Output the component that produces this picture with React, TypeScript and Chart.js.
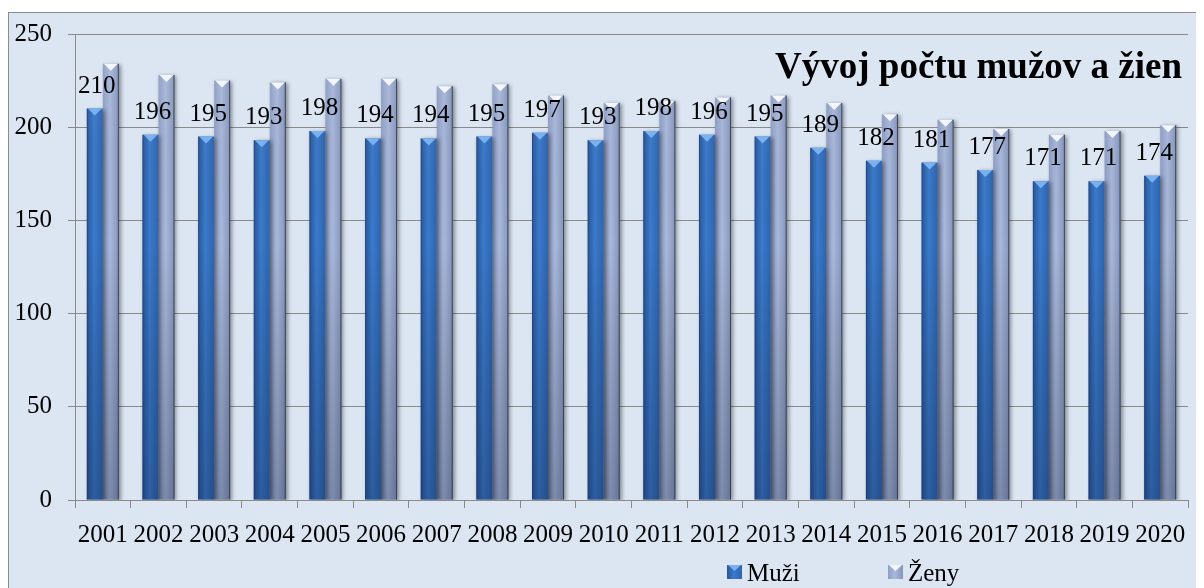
import React, { useEffect, useRef } from "react";
import { Chart, registerables } from "chart.js";

Chart.register(...registerables);

const years = ["2001", "2002", "2003", "2004", "2005", "2006", "2007", "2008", "2009", "2010",
  "2011", "2012", "2013", "2014", "2015", "2016", "2017", "2018", "2019", "2020"];
const muzi = [210, 196, 195, 193, 198, 194, 194, 195, 197, 193, 198, 196, 195, 189, 182, 181, 177, 171, 171, 174];
const zeny = [234, 228, 225, 224, 226, 226, 222, 223, 217, 213, 214, 216, 217, 213, 207, 204, 199, 196, 198, 201];
const seriesNames = ["Muži", "Ženy"];
const titleText = "Vývoj počtu mužov a žien";
const yMin = 0;
const yMax = 250;
const yStep = 50;

const FONT = '"Liberation Serif", "Times New Roman", Times, serif';
const CAT_PCT = 0.575;
const GRID = "#8a8a8a";

function barBounds(chart: any, dataIndex: number, datasetIndex: number) {
  const xs = chart.scales.x;
  const center = xs.getPixelForValue(dataIndex);
  const catW = xs.width / years.length;
  const w = (catW * CAT_PCT) / 2;
  const left = datasetIndex === 0 ? center - w : center;
  return [left, left + w];
}

function blueGradient(ctx: CanvasRenderingContext2D, l: number, r: number) {
  const g = ctx.createLinearGradient(l, 0, r, 0);
  g.addColorStop(0, "#2a5597");
  g.addColorStop(0.45, "#3a7bcd");
  g.addColorStop(1, "#2e64ae");
  return g;
}
function grayGradient(ctx: CanvasRenderingContext2D, l: number, r: number) {
  const g = ctx.createLinearGradient(l, 0, r, 0);
  g.addColorStop(0, "#8e9ec4");
  g.addColorStop(0.45, "#a9b9dc");
  g.addColorStop(1, "#8595bb");
  return g;
}

function makeFill(datasetIndex: number) {
  return (c: any) => {
    const chart = c.chart;
    if (!chart.chartArea || !chart.scales || !chart.scales.x || c.dataIndex === undefined) {
      return datasetIndex === 0 ? "#3a78c8" : "#a0b0d4";
    }
    const [l, r] = barBounds(chart, c.dataIndex, datasetIndex);
    return datasetIndex === 0 ? blueGradient(chart.ctx, l, r) : grayGradient(chart.ctx, l, r);
  };
}

const barDecor = {
  id: "barDecor",
  beforeDatasetDraw(chart: any) {
    const ctx = chart.ctx;
    ctx.save();
    ctx.shadowColor = "rgba(0,0,0,0.4)";
    ctx.shadowBlur = 4;
    ctx.shadowOffsetX = 2;
    ctx.shadowOffsetY = 1;
  },
  afterDatasetDraw(chart: any, args: any) {
    const ctx = chart.ctx;
    ctx.restore();
    const area = chart.chartArea;
    const idx = args.index;
    ctx.save();
    args.meta.data.forEach((el: any) => {
      const x = el.x, y = el.y, w = el.width, b = el.base;
      const l = x - w / 2, r = x + w / 2;
      const g = ctx.createLinearGradient(0, area.top, 0, area.bottom);
      g.addColorStop(0, "rgba(255,255,255,0.08)");
      g.addColorStop(0.45, "rgba(0,0,0,0)");
      g.addColorStop(1, "rgba(10,20,50,0.28)");
      ctx.fillStyle = g;
      ctx.fillRect(l, y, w, b - y);
      ctx.beginPath();
      ctx.moveTo(l + 1, y);
      ctx.lineTo(r - 1, y);
      ctx.lineTo(x, y + 7);
      ctx.closePath();
      ctx.fillStyle = idx === 0 ? "rgba(125,180,242,0.95)" : "rgba(248,250,255,0.95)";
      ctx.fill();
      if (idx === 1) {
        ctx.fillStyle = "rgba(45,55,75,0.85)";
        ctx.fillRect(r - 1, y, 1, b - y);
      } else {
        ctx.fillStyle = "rgba(30,60,110,0.5)";
        ctx.fillRect(l, y, 1, b - y);
      }
    });
    ctx.restore();
  },
};

const labelsAndTitle = {
  id: "labelsAndTitle",
  afterDatasetsDraw(chart: any) {
    const ctx = chart.ctx;
    const meta = chart.getDatasetMeta(0);
    ctx.save();
    ctx.fillStyle = "#000";
    ctx.font = `25px ${FONT}`;
    ctx.textAlign = "center";
    ctx.textBaseline = "alphabetic";
    meta.data.forEach((el: any, i: number) => {
      ctx.fillText(String(muzi[i]), el.x + 2, el.y - 16);
    });
    ctx.restore();
  },
  afterDraw(chart: any) {
    const ctx = chart.ctx;
    const area = chart.chartArea;
    ctx.save();
    ctx.fillStyle = "#000";
    ctx.font = `bold 37px ${FONT}`;
    ctx.textAlign = "right";
    ctx.textBaseline = "alphabetic";
    ctx.fillText(titleText, area.right - 6, 65);

    const items = [
      { x: 718, name: seriesNames[0], grad: blueGradient, cap: "rgba(125,180,242,0.95)" },
      { x: 879, name: seriesNames[1], grad: grayGradient, cap: "rgba(248,250,255,0.95)" },
    ];
    const by = 552, bs = 14;
    items.forEach((it) => {
      ctx.fillStyle = it.grad(ctx, it.x, it.x + 15);
      ctx.fillRect(it.x, by, 15, bs);
      ctx.beginPath();
      ctx.moveTo(it.x + 1, by);
      ctx.lineTo(it.x + 14, by);
      ctx.lineTo(it.x + 7.5, by + 6);
      ctx.closePath();
      ctx.fillStyle = it.cap;
      ctx.fill();
      ctx.fillStyle = "#000";
      ctx.font = `25px ${FONT}`;
      ctx.textAlign = "left";
      ctx.fillText(it.name, it.x + 20, 568);
    });
    ctx.restore();
  },
};

export default function App() {
  const ref = useRef<HTMLCanvasElement | null>(null);
  useEffect(() => {
    if (!ref.current) return;
    const chart = new Chart(ref.current, {
      type: "bar",
      data: {
        labels: years,
        datasets: [
          {
            label: seriesNames[0],
            data: muzi,
            backgroundColor: makeFill(0),
            borderWidth: 0,
            categoryPercentage: CAT_PCT,
            barPercentage: 1,
          },
          {
            label: seriesNames[1],
            data: zeny,
            backgroundColor: makeFill(1),
            borderWidth: 0,
            categoryPercentage: CAT_PCT,
            barPercentage: 1,
          },
        ],
      },
      options: {
        responsive: true,
        maintainAspectRatio: false,
        animation: false,
        layout: { padding: { left: 0, right: 13, top: 21, bottom: 43 } },
        plugins: {
          legend: { display: false },
          title: { display: false },
          tooltip: { enabled: false },
        },
        scales: {
          x: {
            grid: {
              display: true,
              drawOnChartArea: false,
              drawTicks: true,
              tickLength: 8,
              color: GRID,
              offset: true,
            },
            border: { display: true, color: GRID },
            ticks: {
              color: "#000",
              font: { family: FONT, size: 25 },
              padding: 12,
              autoSkip: false,
              maxRotation: 0,
              minRotation: 0,
            },
            afterFit: (s: any) => {
              s.height = 50;
              s.paddingLeft = 0;
              s.paddingRight = 0;
            },
          },
          y: {
            min: yMin,
            max: yMax,
            ticks: {
              stepSize: yStep,
              color: "#000",
              font: { family: FONT, size: 25 },
              padding: 16,
            },
            grid: { color: GRID, tickLength: 7, drawTicks: true },
            border: { display: true, color: GRID },
            afterFit: (s: any) => {
              s.width = 66;
              s.paddingTop = 0;
              s.paddingBottom = 0;
            },
          },
        },
      },
      plugins: [barDecor, labelsAndTitle],
    });
    return () => chart.destroy();
  }, []);

  return (
    <div style={{ paddingTop: 4 }}>
      <div
        style={{
          width: 1192,
          height: 580,
          border: "1px solid #8c8c8c",
          background: "#dce6f2",
          position: "relative",
        }}
      >
        <canvas ref={ref} />
      </div>
    </div>
  );
}
